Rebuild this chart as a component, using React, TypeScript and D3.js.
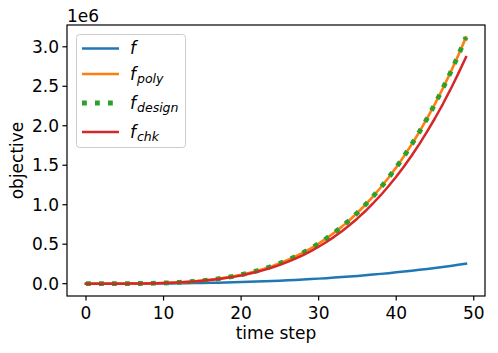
import React from "react";
import * as d3 from "d3";

// values (objective, absolute units)
const steps = d3.range(0, 50);

const fBase = [
  0, 5, 33, 101, 227, 424, 706, 1088, 1581, 2201, 2955, 3858, 4923, 6160, 7580,
  9200, 11020, 13060, 15330, 17840, 20570, 23600, 26870, 30430, 34310, 38460,
  42930, 47670, 52800, 58240, 64030, 70210, 76740, 83640, 90950, 98620, 106740,
  115170, 124150, 133530, 143350, 153600, 164420, 175460, 187250, 199410,
  211960, 225070, 238810, 253000,
];

const fPoly = [
  0, 2, 23, 101, 294, 670, 1317, 2330, 3820, 5900, 8710, 12400, 17100, 23000,
  30300, 39100, 49600, 62100, 76800, 93800, 113300, 135700, 161300, 190000,
  222500, 258700, 299200, 344100, 393400, 448000, 508000, 573500, 644600,
  722600, 807100, 898200, 996800, 1103900, 1218000, 1341000, 1472600, 1613700,
  1764000, 1924400, 2095400, 2277300, 2469500, 2673800, 2891000, 3120000,
];

const fDesign = [
  0, 2, 23, 101, 294, 670, 1317, 2330, 3820, 5900, 8710, 12400, 17100, 23000,
  30300, 39100, 49600, 62100, 76800, 93800, 113300, 135700, 161300, 190000,
  222500, 258700, 299200, 344100, 393400, 448000, 508000, 573500, 644600,
  722600, 807100, 898200, 996800, 1103900, 1218000, 1341000, 1472600, 1613700,
  1764000, 1924400, 2095400, 2277300, 2469500, 2673800, 2891000, 3120000,
];

const fChk = [
  0, 2, 21, 93, 270, 616, 1212, 2144, 3514, 5430, 8010, 11400, 15700, 21200,
  27900, 36000, 45600, 57100, 70700, 86300, 104200, 124800, 148400, 174800,
  204700, 238000, 275300, 316600, 361900, 412200, 467400, 527600, 593000,
  664800, 742500, 826300, 917100, 1015600, 1120600, 1233700, 1354800, 1484600,
  1622900, 1770400, 1927800, 2095100, 2271900, 2459900, 2659700, 2870000,
];

const xTicks = [0, 10, 20, 30, 40, 50];
const yTicks = [0, 0.5, 1.0, 1.5, 2.0, 2.5, 3.0];

const W = 498;
const H = 353;
const left = 67;
const right = 485;
const top = 25;
const bottom = 296;
const font = "DejaVu Sans, sans-serif";
const fs = 17;

const App = () => {
  const yMax = d3.max(fPoly) as number;
  const x = d3.scaleLinear().domain([-2.45, 51.45]).range([left, right]);
  const y = d3
    .scaleLinear()
    .domain([-0.05 * yMax, 1.05 * yMax])
    .range([bottom, top]);

  const line = (vals: number[]) =>
    d3
      .line<number>()
      .x((_, i) => x(steps[i]))
      .y((d) => y(d))(vals) as string;

  const series = [
    { name: "f", sub: "", vals: fBase, color: "#1f77b4", width: 2.5, dash: "" },
    { name: "f", sub: "poly", vals: fPoly, color: "#ff7f0e", width: 2.6, dash: "" },
    { name: "f", sub: "design", vals: fDesign, color: "#2ca02c", width: 4.8, dash: "4.8 8.2" },
    { name: "f", sub: "chk", vals: fChk, color: "#d62728", width: 2.5, dash: "" },
  ];
  const legendY = [48.5, 74, 103, 132];

  return (
    <svg
      width={W}
      height={H}
      style={{ position: "absolute", left: 0, top: 0 }}
      fontFamily={font}
    >
      <rect width={W} height={H} fill="#fff" />
      <defs>
        <clipPath id="plot">
          <rect x={left} y={top} width={right - left} height={bottom - top} />
        </clipPath>
      </defs>

      <g clipPath="url(#plot)">
        {series.map((s, i) => (
          <path
            key={i}
            d={line(s.vals)}
            fill="none"
            stroke={s.color}
            strokeWidth={s.width}
            strokeDasharray={s.dash || undefined}
            strokeLinejoin="round"
            strokeLinecap={s.dash ? "butt" : "square"}
          />
        ))}
      </g>

      {/* spines */}
      <rect
        x={left}
        y={top}
        width={right - left}
        height={bottom - top}
        fill="none"
        stroke="#000"
        strokeWidth={1.2}
      />

      {/* x axis */}
      {xTicks.map((t) => (
        <g key={t} transform={`translate(${x(t)},${bottom})`}>
          <line y2={4.6} stroke="#000" strokeWidth={1.2} />
          <text y={23} textAnchor="middle" fontSize={fs}>
            {t}
          </text>
        </g>
      ))}
      <text x={(left + right) / 2} y={339} textAnchor="middle" fontSize={fs}>
        time step
      </text>

      {/* y axis */}
      {yTicks.map((t) => (
        <g key={t} transform={`translate(${left},${y(t * 1e6)})`}>
          <line x2={-4.6} stroke="#000" strokeWidth={1.2} />
          <text x={-8} dy="0.36em" textAnchor="end" fontSize={fs}>
            {d3.format(".1f")(t)}
          </text>
        </g>
      ))}
      <text
        transform={`translate(23,${(top + bottom) / 2}) rotate(-90)`}
        textAnchor="middle"
        fontSize={fs}
      >
        objective
      </text>
      <text x={left} y={21.5} fontSize={fs}>
        1e6
      </text>

      {/* legend */}
      <rect
        x={76.5}
        y={34.5}
        width={109}
        height={113}
        rx={3}
        fill="#fff"
        fillOpacity={0.8}
        stroke="#ccc"
        strokeWidth={1}
      />
      {series.map((s, i) => (
        <g key={i} transform={`translate(0,${legendY[i]})`}>
          <line
            x1={82}
            x2={119}
            stroke={s.color}
            strokeWidth={s.width}
            strokeDasharray={s.dash || undefined}
          />
          <text x={130} y={5.5} fontSize={fs} fontStyle="italic">
            {s.name}
            {s.sub && (
              <tspan dx={1} dy={3} fontSize={12.5}>
                {s.sub}
              </tspan>
            )}
          </text>
        </g>
      ))}
    </svg>
  );
};

export default App;
